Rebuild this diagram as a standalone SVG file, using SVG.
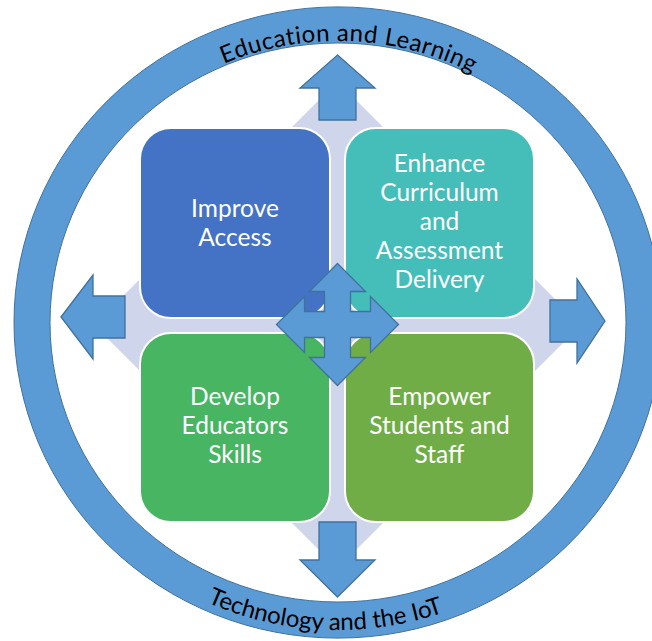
<svg xmlns="http://www.w3.org/2000/svg" width="652" height="641" viewBox="0 0 652 641">
<style>
.ring{fill:#5B9BD5;stroke:#41719C;stroke-width:1;fill-rule:evenodd}
.arr{fill:#5B9BD5;stroke:#41719C;stroke-width:1.3;stroke-linejoin:miter}
.box{stroke:#FFFFFF;stroke-width:2}
.lbl{font-family:Lato,"Open Sans",sans-serif;font-size:24.5px;fill:#FFFFFF;text-anchor:middle}
.arc{font-family:Lato,"Open Sans",sans-serif;font-size:24px;fill:#000000;text-anchor:middle}
</style>
<defs>
<path id="topPath" d="M48,322.5 A290,281.5 0 0 1 628,322.5"/>
<path id="botPath" d="M22,322.5 A316,307.5 0 0 0 654,322.5"/>
</defs>
<rect width="652" height="641" fill="#FFFFFF"/>
<g id="ring">
<path class="ring" d="M14,322.5 A324,315.5 0 1 0 662,322.5 A324,315.5 0 1 0 14,322.5 Z M50,322.5 A288,279.5 0 1 0 626,322.5 A288,279.5 0 1 0 50,322.5 Z"/>
<text class="arc" letter-spacing="0.5"><textPath href="#topPath" startOffset="460">Education and Learning</textPath></text>
<text class="arc"><textPath href="#botPath" startOffset="476">Technology and the IoT</textPath></text>
</g>
<g id="background">
<polygon points="337.5,81.5 581,325 337.5,568.5 94,325" fill="#CFD5EA"/>
</g>
<g id="connectors">
<polygon class="arr" points="337.5,55 375,88 356,88 356,120 319,120 319,88 300,88"/>
<polygon class="arr" points="337.5,597 375,560 356,560 356,522 319,522 319,560 300,560"/>
<polygon class="arr" points="61,317 93,275 93,296 125,296 125,338 93,338 93,359"/>
<polygon class="arr" points="605,321 577,279 577,300 550,300 550,342 577,342 577,363"/>
</g>
<g id="improve-access">
<rect class="box" x="140" y="128" width="190" height="190" rx="31" fill="#4472C4"/>
<text class="lbl" x="235" y="217">Improve</text>
<text class="lbl" x="235" y="246">Access</text>
</g>
<g id="enhance-curriculum">
<rect class="box" x="345" y="128" width="189" height="190" rx="31" fill="#45BDB8"/>
<text class="lbl" x="439.5" y="172">Enhance</text>
<text class="lbl" x="439.5" y="201">Curriculum</text>
<text class="lbl" x="439.5" y="230">and</text>
<text class="lbl" x="439.5" y="259">Assessment</text>
<text class="lbl" x="439.5" y="288">Delivery</text>
</g>
<g id="develop-educators">
<rect class="box" x="140" y="333" width="190" height="189" rx="31" fill="#47B562"/>
<text class="lbl" x="235" y="405">Develop</text>
<text class="lbl" x="235" y="434">Educators</text>
<text class="lbl" x="235" y="463">Skills</text>
</g>
<g id="empower-students">
<rect class="box" x="345" y="333" width="189" height="189" rx="31" fill="#70AD47"/>
<text class="lbl" x="439.5" y="405">Empower</text>
<text class="lbl" x="439.5" y="434">Students and</text>
<text class="lbl" x="439.5" y="463">Staff</text>
</g>
<g id="quad-arrow">
<path class="arr" transform="translate(337.5,324.5)" d="M0,-61 L28,-33 L13,-33 L13,-13 L33,-13 L33,-28 L61,0 L33,28 L33,13 L13,13 L13,33 L28,33 L0,61 L-28,33 L-13,33 L-13,13 L-33,13 L-33,28 L-61,0 L-33,-28 L-33,-13 L-13,-13 L-13,-33 L-28,-33 Z"/>
</g>
</svg>
